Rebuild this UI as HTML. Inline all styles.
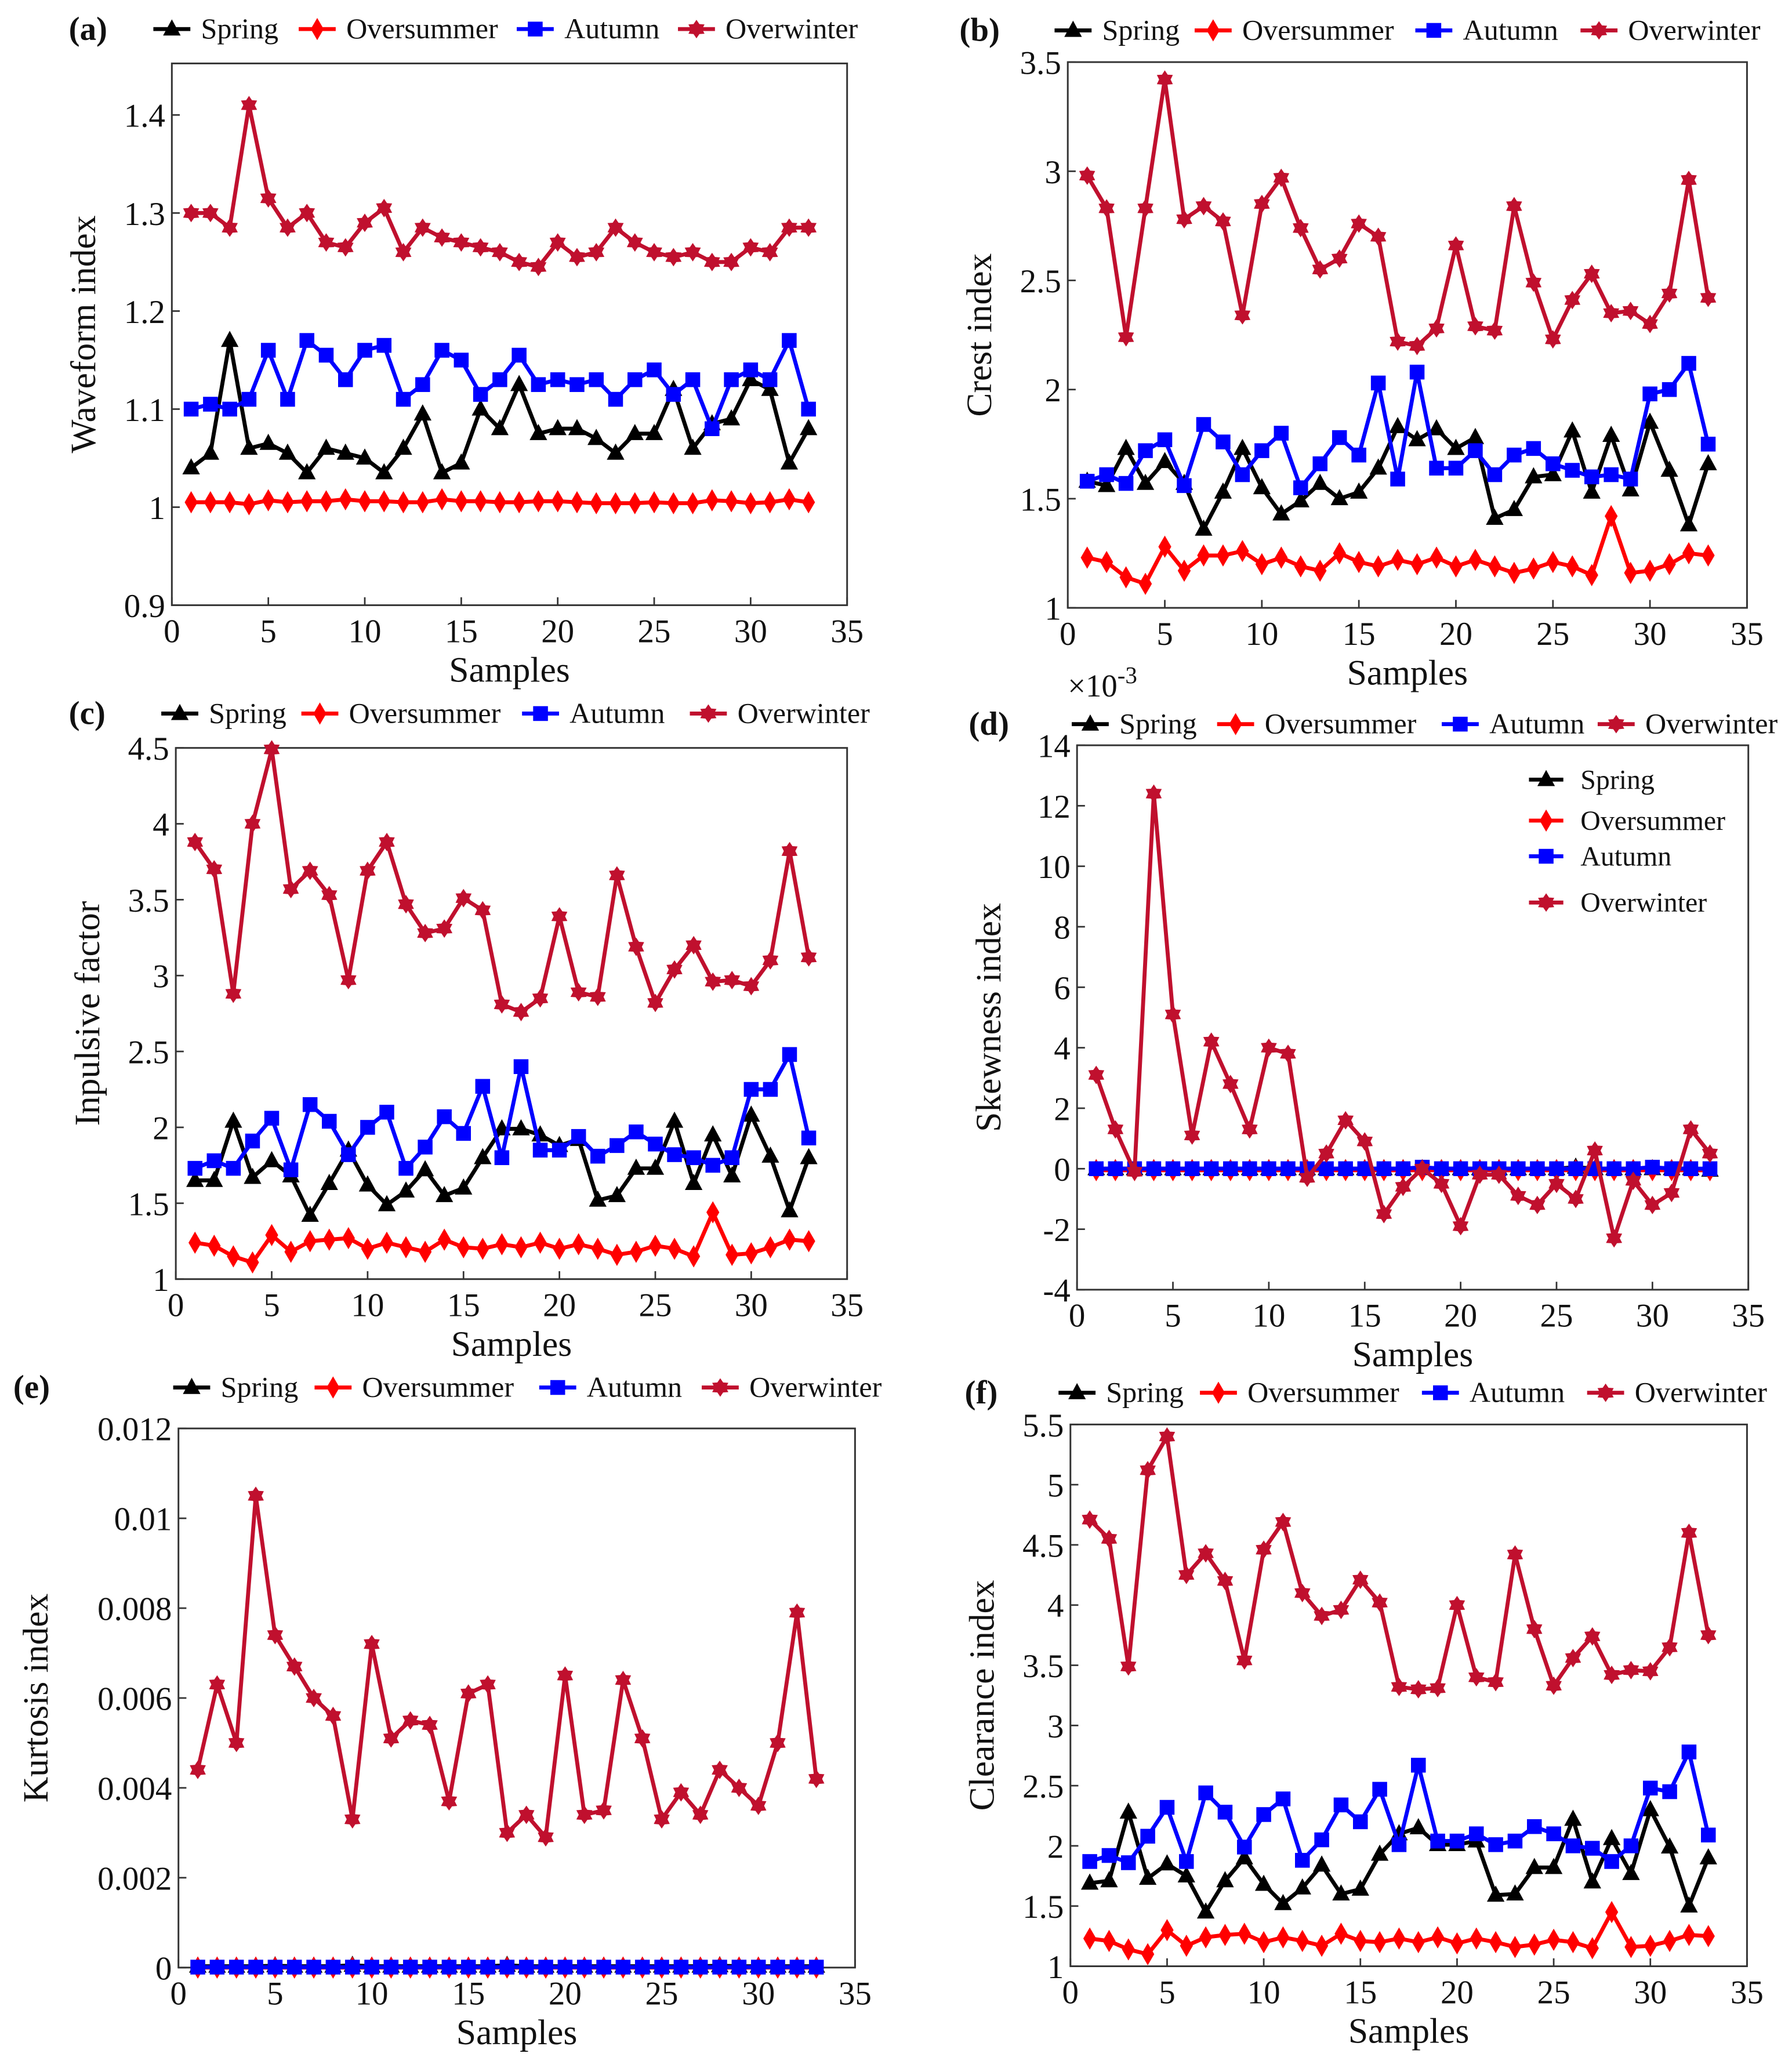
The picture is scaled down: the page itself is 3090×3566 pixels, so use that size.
<!DOCTYPE html>
<html><head><meta charset="utf-8">
<style>
html,body{margin:0;padding:0;background:#fff;}
svg{display:block;font-family:"Liberation Serif",serif;}
</style></head>
<body>
<svg id="fig" width="3090" height="3566" viewBox="0 0 1356 1565" xmlns="http://www.w3.org/2000/svg"></svg>
<script>
const xTicks=[0,5,10,15,20,25,30,35];
const aSpring=[1.04,1.055,1.17,1.06,1.065,1.055,1.035,1.06,1.055,1.05,1.035,1.06,1.095,1.035,1.045,1.10,1.08,1.125,1.075,1.08,1.08,1.07,1.055,1.075,1.075,1.12,1.06,1.085,1.09,1.13,1.12,1.045,1.08];
const aSummer=[1.005,1.005,1.005,1.003,1.007,1.005,1.006,1.006,1.008,1.006,1.006,1.005,1.005,1.008,1.006,1.006,1.005,1.005,1.006,1.006,1.005,1.004,1.004,1.004,1.005,1.004,1.004,1.007,1.006,1.004,1.005,1.008,1.005];
const aAutumn=[1.10,1.105,1.10,1.11,1.16,1.11,1.17,1.155,1.13,1.16,1.165,1.11,1.125,1.16,1.15,1.115,1.13,1.155,1.125,1.13,1.125,1.13,1.11,1.13,1.14,1.115,1.13,1.08,1.13,1.14,1.13,1.17,1.10];
const aWinter=[1.30,1.30,1.285,1.41,1.315,1.285,1.30,1.27,1.265,1.29,1.305,1.26,1.285,1.275,1.27,1.265,1.26,1.25,1.245,1.27,1.255,1.26,1.285,1.27,1.26,1.255,1.26,1.25,1.25,1.265,1.26,1.285,1.285];
const aTicks=[0.9,1,1.1,1.2,1.3,1.4];
const aTickLabels=["0.9","1","1.1","1.2","1.3","1.4"];

const bSpring=[1.58,1.56,1.73,1.57,1.67,1.57,1.36,1.53,1.73,1.55,1.43,1.49,1.57,1.50,1.53,1.64,1.83,1.77,1.82,1.73,1.78,1.41,1.45,1.60,1.61,1.81,1.53,1.79,1.54,1.85,1.63,1.38,1.66];
const bSummer=[1.23,1.21,1.14,1.11,1.28,1.17,1.24,1.24,1.26,1.20,1.23,1.19,1.17,1.25,1.21,1.19,1.22,1.20,1.23,1.19,1.22,1.19,1.16,1.18,1.21,1.19,1.15,1.42,1.16,1.17,1.20,1.25,1.24];
const bAutumn=[1.58,1.61,1.57,1.72,1.77,1.56,1.84,1.76,1.61,1.72,1.80,1.55,1.66,1.78,1.70,2.03,1.59,2.08,1.64,1.64,1.72,1.61,1.70,1.73,1.66,1.63,1.60,1.61,1.59,1.98,2.00,2.12,1.75];
const bWinter=[2.98,2.83,2.24,2.83,3.42,2.78,2.84,2.77,2.34,2.85,2.97,2.74,2.55,2.60,2.76,2.70,2.22,2.20,2.28,2.66,2.29,2.27,2.84,2.49,2.23,2.41,2.53,2.35,2.36,2.30,2.44,2.96,2.42];
const bTicks=[1,1.5,2,2.5,3,3.5];
const bTickLabels=["1","1.5","2","2.5","3","3.5"];

const cSpring=[1.65,1.65,2.04,1.67,1.78,1.68,1.42,1.63,1.85,1.62,1.49,1.58,1.72,1.55,1.60,1.80,1.99,1.99,1.95,1.88,1.92,1.52,1.55,1.73,1.73,2.04,1.63,1.95,1.68,2.08,1.81,1.45,1.80];
const cSummer=[1.24,1.22,1.15,1.11,1.29,1.18,1.25,1.26,1.27,1.20,1.24,1.21,1.18,1.26,1.21,1.20,1.23,1.21,1.24,1.20,1.23,1.20,1.16,1.18,1.22,1.20,1.15,1.44,1.16,1.17,1.21,1.26,1.25];
const cAutumn=[1.73,1.78,1.73,1.91,2.06,1.72,2.15,2.04,1.82,2.00,2.10,1.73,1.87,2.07,1.96,2.27,1.80,2.40,1.85,1.85,1.94,1.81,1.88,1.97,1.89,1.82,1.80,1.75,1.80,2.25,2.25,2.48,1.93];
const cWinter=[3.88,3.70,2.88,4.00,4.49,3.57,3.69,3.53,2.97,3.69,3.88,3.47,3.28,3.31,3.51,3.43,2.81,2.76,2.85,3.39,2.89,2.86,3.66,3.19,2.82,3.04,3.20,2.96,2.97,2.93,3.10,3.82,3.12];
const cTicks=[1,1.5,2,2.5,3,3.5,4,4.5];
const cTickLabels=["1","1.5","2","2.5","3","3.5","4","4.5"];

const dSpring=[0.0,0.0,0.0,0.0,0.0,0.0,0.0,0.0,0.0,0.0,0.0,0.0,0.0,0.0,0.0,0.0,0.0,0.0,0.0,0.0,0.0,0.0,0.0,0.0,0.0,0.05,0.0,0.0,0.0,0.0,0.0,0.0,-0.05];
const dSummer=[-0.05,-0.05,-0.05,-0.05,-0.05,-0.05,-0.05,-0.05,-0.05,-0.05,-0.05,-0.05,-0.05,-0.05,-0.05,-0.05,-0.05,-0.05,-0.05,-0.05,-0.05,-0.05,-0.05,-0.05,-0.05,-0.05,-0.05,-0.05,-0.05,-0.05,-0.05,-0.05,-0.05];
const dAutumn=[0.0,0.0,0.0,0.0,0.0,0.0,0.0,0.0,0.0,0.0,0.0,0.0,0.0,0.0,0.0,0.0,0.0,0.05,0.0,0.0,0.0,0.0,0.0,0.0,0.0,0.0,0.0,0.0,0.0,0.05,0.0,0.0,0.0];
const dWinter=[3.1,1.3,-0.1,12.4,5.1,1.1,4.2,2.8,1.3,4.0,3.8,-0.3,0.5,1.6,0.9,-1.5,-0.6,0.0,-0.5,-1.9,-0.2,-0.2,-0.9,-1.2,-0.5,-1.0,0.6,-2.3,-0.4,-1.2,-0.8,1.3,0.5];
const dTicks=[-4,-2,0,2,4,6,8,10,12,14];
const dTickLabels=["-4","-2","0","2","4","6","8","10","12","14"];

const eSpring=[0.00003,0.00003,0.00003,0.00003,0.00004,0.00003,0.00003,0.00003,0.00005,0.00003,0.00003,0.00003,0.00003,0.00003,0.00003,0.00003,0.00005,0.00003,0.00003,0.00003,0.00003,0.00003,0.00003,0.00003,0.00003,0.00003,0.00003,0.00004,0.00003,0.00003,0.00003,0.00003,0.00003];
const eSummer=[0,0,0,0,0,0,0,0,0,0,0,0,0,0,0,0,0,0,0,0,0,0,0,0,0,0,0,0,0,0,0,0,0];
const eAutumn=[0.00001,0.00001,0.00001,0.00001,0.00001,0.00001,0.00001,0.00001,0.00001,0.00001,0.00001,0.00001,0.00001,0.00001,0.00001,0.00001,0.00001,0.00001,0.00001,0.00001,0.00001,0.00001,0.00001,0.00001,0.00001,0.00001,0.00001,0.00001,0.00001,0.00001,0.00001,0.00001,0.00001];
const eWinter=[0.0044,0.0063,0.0050,0.0105,0.0074,0.0067,0.0060,0.0056,0.0033,0.0072,0.0051,0.0055,0.0054,0.0037,0.0061,0.0063,0.0030,0.0034,0.0029,0.0065,0.0034,0.0035,0.0064,0.0051,0.0033,0.0039,0.0034,0.0044,0.0040,0.0036,0.0050,0.0079,0.0042];
const eTicks=[0,0.002,0.004,0.006,0.008,0.01,0.012];
const eTickLabels=["0","0.002","0.004","0.006","0.008","0.01","0.012"];

const fSpring=[1.69,1.71,2.28,1.73,1.85,1.75,1.45,1.71,1.90,1.68,1.52,1.65,1.84,1.60,1.64,1.93,2.10,2.15,2.01,2.01,2.04,1.59,1.60,1.82,1.82,2.22,1.70,2.06,1.77,2.30,1.99,1.50,1.90];
const fSummer=[1.23,1.21,1.14,1.10,1.30,1.17,1.24,1.26,1.27,1.20,1.24,1.21,1.17,1.27,1.21,1.20,1.23,1.20,1.24,1.19,1.23,1.20,1.16,1.18,1.22,1.20,1.15,1.45,1.16,1.17,1.21,1.26,1.25];
const fAutumn=[1.87,1.92,1.86,2.08,2.32,1.87,2.44,2.28,1.99,2.26,2.39,1.88,2.05,2.34,2.20,2.47,2.01,2.67,2.04,2.04,2.10,2.01,2.04,2.16,2.10,2.00,1.98,1.87,2.00,2.48,2.45,2.78,2.09];
const fWinter=[4.71,4.55,3.49,5.12,5.40,4.25,4.43,4.20,3.54,4.46,4.69,4.10,3.91,3.96,4.21,4.02,3.32,3.30,3.31,4.00,3.40,3.36,4.42,3.80,3.33,3.56,3.74,3.42,3.46,3.45,3.65,4.60,3.75];
const fTicks=[1,1.5,2,2.5,3,3.5,4,4.5,5,5.5];
const fTickLabels=["1","1.5","2","2.5","3","3.5","4","4.5","5","5.5"];

const seriesNames=["Spring","Oversummer","Autumn","Overwinter"];
const seriesColors=["#000000","#ff0000","#0000ff","#c0102e"];

const NS="http://www.w3.org/2000/svg";
const svg=document.getElementById('fig');
function mk(tag,attrs,parent){const e=document.createElementNS(NS,tag);for(const k in attrs)e.setAttribute(k,attrs[k]);(parent||svg).appendChild(e);return e;}

function marker(g,kind,cx,cy,s,color){
  let e;
  if(kind===0){e=mk('polygon',{points:`${cx},${cy-s*1.05} ${cx+s*0.95},${cy+s*0.7} ${cx-s*0.95},${cy+s*0.7}`,fill:color},g);}
  else if(kind===1){e=mk('polygon',{points:`${cx},${cy-s*1.2} ${cx+s*0.7},${cy} ${cx},${cy+s*1.2} ${cx-s*0.7},${cy}`,fill:color},g);}
  else if(kind===2){e=mk('rect',{x:cx-s*0.8,y:cy-s*0.8,width:s*1.6,height:s*1.6,fill:color},g);}
  else{let p=[];for(let i=0;i<12;i++){const a=Math.PI/6*i-Math.PI/2;const r=i%2===0?s*1.0:s*0.62;p.push((cx+r*Math.cos(a)).toFixed(1)+','+(cy+r*Math.sin(a)).toFixed(1));}
    e=mk('polygon',{points:p.join(' '),fill:color},g);}
  return e;
}

function panel(cfg){
  const g=mk('g',{});
  
  
  const L=cfg.left,R=cfg.right,T=cfg.top,B=cfg.bottom;
  const xs=v=>L+(v-0)*(cfg.x35-L)/35;
  const ys=v=>cfg.yb+(v-cfg.y0)*(cfg.yt-cfg.yb)/(cfg.y1-cfg.y0);
  const box=mk('rect',{x:L,y:T,width:R-L,height:B-T,fill:'none',stroke:'#333',"stroke-width":1.3},g);
  
  
  xTicks.forEach(t=>{
    const x=xs(t);
    if(x<=R+1) mk('line',{x1:x,y1:B,x2:x,y2:B-6,stroke:'#333',"stroke-width":1.2},g);
    const tx=mk('text',{x:x,y:B+28,"font-size":25,"text-anchor":"middle",fill:'#111'},g);
    tx.textContent=String(t);
    
    
  });
  cfg.yTicks.forEach((t,i)=>{
    const y=ys(t);
    mk('line',{x1:L,y1:y,x2:L+6,y2:y,stroke:'#333',"stroke-width":1.2},g);
    const tx=mk('text',{x:L-5,y:y+9,"font-size":25,"text-anchor":"end",fill:'#111'},g);
    tx.textContent=cfg.yLabels[i];
    
    
  });
  const xt=mk('text',{x:(L+R)/2,y:B+58,"font-size":27,"text-anchor":"middle",fill:'#111'},g);
  xt.textContent='Samples';
  
  
  const yt=mk('text',{x:0,y:0,"font-size":27,"text-anchor":"middle",fill:'#111',transform:`translate(${cfg.ytx},${(T+B)/2}) rotate(-90)`},g);
  yt.textContent=cfg.ytitle;
  
  
  const pl=mk('text',{x:cfg.plx,y:cfg.legY+8,"font-size":25,"font-weight":"bold",fill:'#111'},g);
  pl.textContent='('+cfg.id+')';
  
  
  // series
  cfg.data.forEach((arr,si)=>{
    const sg=mk('g',{},g);
    
    
    const pts=arr.map((v,i)=>xs(i+1).toFixed(1)+','+ys(v).toFixed(1)).join(' ');
    const line=mk('polyline',{points:pts,fill:'none',stroke:seriesColors[si],"stroke-width":3,"stroke-linejoin":"round"},sg);
    
    
    arr.forEach((v,i)=>{
      const m=marker(sg,si,xs(i+1),ys(v),7,seriesColors[si]);
      
      
    });
  });
  // legend
  const lg=mk('g',{},g);
  
  
  cfg.legX.forEach((lx,si)=>{
    const it=mk('g',{},lg);
    
    
    mk('line',{x1:lx-14,y1:cfg.legY,x2:lx+14,y2:cfg.legY,stroke:seriesColors[si],"stroke-width":3},it);
    marker(it,si,lx,cfg.legY,7,seriesColors[si]);
    const t=mk('text',{x:lx+22,y:cfg.legY+7,"font-size":22,fill:'#111'},it);
    t.textContent=seriesNames[si];
  });
  return {g,xs,ys};
}

panel({id:'a',left:130,right:641,top:48,bottom:458,x35:641,y0:0.9,y1:1.4,yb:458,yt:87,yTicks:aTicks,yLabels:aTickLabels,
  ytitle:'Waveform index',ytx:72,plx:52,legY:22,legX:[130,240,405,527],data:[aSpring,aSummer,aAutumn,aWinter]});
panel({id:'b',left:808,right:1322,top:47,bottom:460,x35:1322,y0:1,y1:3.5,yb:460,yt:47,yTicks:bTicks,yLabels:bTickLabels,
  ytitle:'Crest index',ytx:750,plx:726,legY:23,legX:[812,918,1085,1210],data:[bSpring,bSummer,bAutumn,bWinter]});
panel({id:'c',left:133,right:641,top:566,bottom:968,x35:641,y0:1,y1:4.5,yb:968,yt:566,yTicks:cTicks,yLabels:cTickLabels,
  ytitle:'Inpulsive factor',ytx:75,plx:52,legY:540,legX:[136,242,409,536],data:[cSpring,cSummer,cAutumn,cWinter]});
const pd=panel({id:'d',left:815,right:1323,top:564,bottom:976,x35:1323,y0:-4,y1:14,yb:976,yt:564,yTicks:dTicks,yLabels:dTickLabels,
  ytitle:'Skewness index',ytx:757,plx:733,legY:548,legX:[825,935,1105,1223],data:[dSpring,dSummer,dAutumn,dWinter]});
panel({id:'e',left:135,right:647,top:1081,bottom:1489,x35:647,y0:0,y1:0.012,yb:1489,yt:1081,yTicks:eTicks,yLabels:eTickLabels,
  ytitle:'Kurtosis index',ytx:36,plx:10,legY:1050,legX:[145,252,422,545],data:[eSpring,eSummer,eAutumn,eWinter]});
panel({id:'f',left:810,right:1322,top:1078,bottom:1488,x35:1322,y0:1,y1:5.5,yb:1488,yt:1078,yTicks:fTicks,yLabels:fTickLabels,
  ytitle:'Clearance index',ytx:752,plx:730,legY:1054,legX:[815,922,1090,1215],data:[fSpring,fSummer,fAutumn,fWinter]});

// exponent label for (d)
const ex=mk('text',{x:808,y:527,"font-size":24,fill:'#111'});


ex.innerHTML='×10<tspan dy="-10" font-size="18">-3</tspan>';
// inner legend for (d)
const il=mk('g',{});


[[590,0],[621,1],[648,2],[683,3]].forEach(([y,si])=>{
  const it=mk('g',{},il);
  
  
  mk('line',{x1:1157,y1:y,x2:1183,y2:y,stroke:seriesColors[si],"stroke-width":3},it);
  marker(it,si,1170,y,7,seriesColors[si]);
  const t=mk('text',{x:1196,y:y+7,"font-size":21,fill:'#111'},it);
  t.textContent=seriesNames[si];
});
</script>
</body></html>
